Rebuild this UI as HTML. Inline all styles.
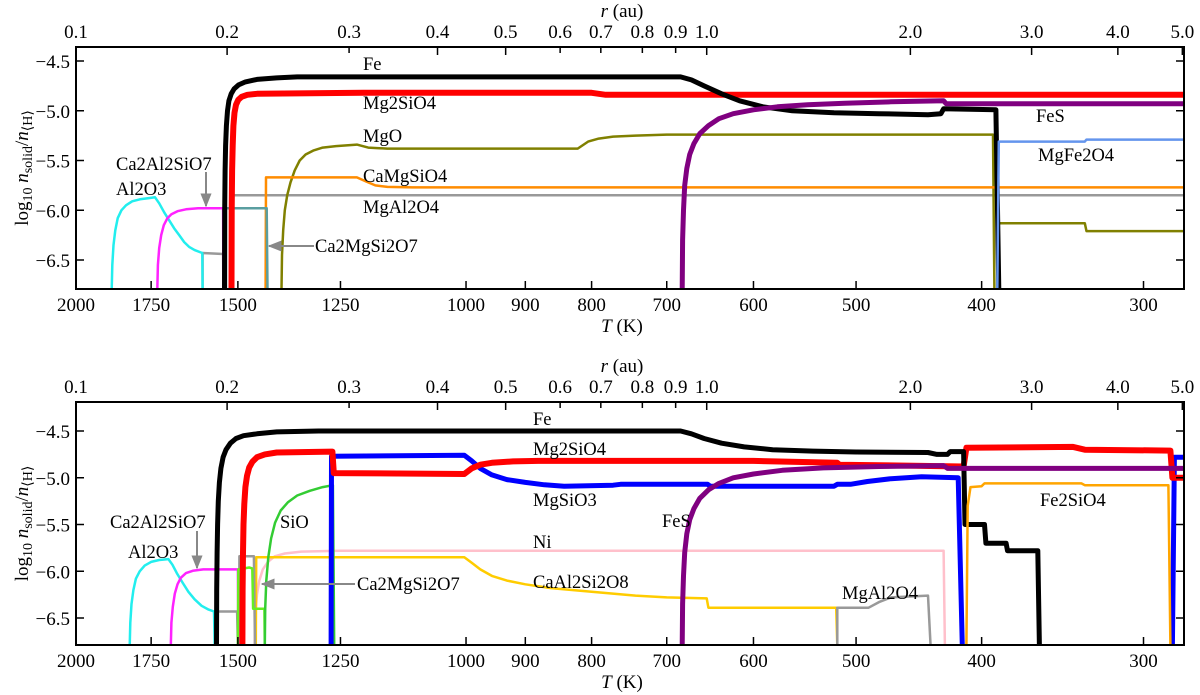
<!DOCTYPE html>
<html><head><meta charset="utf-8"><style>
html,body{margin:0;padding:0;background:#fff;}
svg{display:block;font-family:"Liberation Serif",serif;}
</style></head><body>
<svg id="chart" width="1200" height="695" viewBox="0 0 1200 695" xmlns="http://www.w3.org/2000/svg">
<defs>
<clipPath id="clipTop"><rect x="76" y="47" width="1108" height="242"/></clipPath>
<clipPath id="clipBot"><rect x="76" y="402" width="1108" height="243"/></clipPath>
<marker id="arr" viewBox="0 0 10 10" refX="9" refY="5" markerWidth="7" markerHeight="7" orient="auto"><path d="M0,1 L10,5 L0,9 z" fill="#888"/></marker>
</defs>
</svg>
<script>
// ---- data ----
const tTicks = [2000,1750,1500,1250,1000,900,800,700,600,500,400,300];
const yTicks = [-4.5,-5.0,-5.5,-6.0,-6.5];
const rTickLabels = ["0.1","0.2","0.3","0.4","0.5","0.6","0.7","0.8","0.9","1.0","2.0","3.0","4.0","5.0"];
const rTickT = [2000,1529,1231,1052,932,846,787,731,689,652,454,366,314,280];

// top panel series [T, log10 n]
const topFe = [[1536,-6.8],[1535.5,-6.0],[1534.5,-5.6],[1533,-5.35],[1531,-5.15],[1528,-5.0],[1524,-4.9],[1518,-4.83],[1510,-4.78],[1498,-4.74],[1480,-4.71],[1450,-4.685],[1400,-4.67],[1350,-4.66],[683,-4.66],[670,-4.69],[655,-4.75],[635,-4.83],[615,-4.9],[590,-4.96],[560,-5.0],[520,-5.02],[480,-5.03],[440,-5.04],[430,-5.03],[428,-4.98],[390,-4.99],[388,-6.8]];
const topMg2SiO4 = [[1517,-6.8],[1516.5,-6.0],[1515.5,-5.6],[1514,-5.35],[1512,-5.15],[1509,-5.02],[1505,-4.94],[1499,-4.89],[1490,-4.86],[1475,-4.84],[1450,-4.83],[1200,-4.82],[800,-4.82],[780,-4.84],[279,-4.84]];
const topMgO = [[1388,-6.8],[1387,-6.45],[1384,-6.2],[1380,-6.0],[1374,-5.85],[1366,-5.72],[1356,-5.6],[1344,-5.5],[1330,-5.44],[1312,-5.4],[1290,-5.37],[1260,-5.355],[1214,-5.34],[1190,-5.37],[1150,-5.38],[820,-5.38],[805,-5.31],[790,-5.28],[770,-5.26],[740,-5.25],[700,-5.24],[392,-5.24],[391,-6.8]];
const topMgOLow = [[389,-6.13],[333,-6.13],[332,-6.21],[279,-6.21]];
const topCaMgSiO4 = [[1428,-6.8],[1427,-5.67],[1214,-5.67],[1195,-5.71],[1175,-5.75],[1150,-5.765],[1100,-5.77],[279,-5.77]];
const topMgAl2O4Low = [[1597,-6.8],[1597,-6.43],[1540,-6.44],[1539,-6.8]];
const topMgAl2O4 = [[1512,-5.85],[279,-5.85]];
const topCa2Al2SiO7 = [[1731,-6.8],[1729,-6.55],[1725,-6.38],[1719,-6.25],[1711,-6.15],[1700,-6.08],[1688,-6.04],[1670,-6.01],[1645,-5.99],[1610,-5.98],[1540,-5.98],[1539,-6.8]];
const topAl2O3 = [[1877,-6.8],[1875,-6.55],[1871,-6.35],[1865,-6.2],[1857,-6.08],[1845,-6.0],[1830,-5.95],[1810,-5.91],[1785,-5.89],[1760,-5.88],[1738,-5.87],[1725,-5.93],[1710,-6.02],[1695,-6.1],[1680,-6.18],[1665,-6.25],[1650,-6.32],[1635,-6.37],[1620,-6.4],[1598,-6.43],[1597,-6.8]];
const topCa2MgSi2O7 = [[1532,-6.8],[1532,-5.98],[1425,-5.98],[1423,-6.8]];
const topFeS = [[681,-6.8],[680.5,-6.3],[679.5,-6.0],[678,-5.75],[675.5,-5.58],[672,-5.44],[667,-5.33],[660,-5.23],[650,-5.15],[638,-5.08],[622,-5.03],[600,-4.99],[575,-4.96],[545,-4.94],[510,-4.925],[470,-4.91],[428,-4.9],[426,-4.93],[279,-4.93]];
const topMgFe2O4 = [[389,-6.8],[388,-5.31],[333,-5.31],[332,-5.29],[279,-5.29]];

// bottom panel series
const botFe = [[1558,-6.8],[1557.5,-6.2],[1556.5,-5.8],[1555,-5.5],[1553,-5.25],[1550,-5.05],[1546,-4.9],[1540,-4.78],[1532,-4.7],[1520,-4.63],[1505,-4.58],[1485,-4.55],[1450,-4.53],[1400,-4.51],[1300,-4.5],[683,-4.5],[670,-4.53],[655,-4.58],[635,-4.63],[610,-4.67],[580,-4.7],[540,-4.715],[500,-4.725],[440,-4.73],[433,-4.75],[425,-4.75],[423,-4.72],[413,-4.72],[412,-5.5],[398,-5.5],[397,-5.7],[383,-5.7],[382,-5.78],[362,-5.78],[361,-6.8]];
const botMg2SiO4 = [[1488,-6.8],[1487.5,-6.2],[1486.5,-5.8],[1485,-5.5],[1483,-5.28],[1480,-5.1],[1476,-4.98],[1470,-4.89],[1462,-4.83],[1450,-4.78],[1430,-4.75],[1400,-4.73],[1268,-4.72],[1265,-4.95],[1003,-4.96],[990,-4.9],[975,-4.86],[955,-4.84],[920,-4.825],[880,-4.82],[600,-4.82],[517,-4.84],[515,-4.86],[413,-4.88],[411,-4.68],[340,-4.67],[333,-4.7],[286,-4.71],[285,-5.0],[279,-5.0]];
const botMgSiO3 = [[1271,-6.8],[1270,-4.77],[1003,-4.76],[990,-4.82],[975,-4.9],[955,-4.97],[930,-5.02],[900,-5.05],[870,-5.075],[840,-5.09],[770,-5.08],[760,-5.07],[651,-5.07],[648,-5.09],[520,-5.09],[517,-5.07],[505,-5.07],[490,-5.04],[470,-5.01],[445,-4.99],[417,-5.0],[414,-6.8]];
const botMgSiO3Low = [[285,-6.8],[284,-4.78],[279,-4.78]];
const botSiO = [[1430,-6.8],[1429,-6.4],[1426,-6.1],[1421,-5.85],[1414,-5.65],[1404,-5.48],[1390,-5.35],[1372,-5.26],[1350,-5.19],[1320,-5.14],[1290,-5.1],[1267,-5.08],[1264,-6.8]];
const botSiOHigh = [[1500,-6.8],[1499,-5.98],[1470,-5.96],[1462,-5.97],[1460,-6.4],[1431,-6.4],[1430,-6.8]];
const botMgAl2O4a = [[1562,-6.43],[1502,-6.43],[1500,-6.8]];
const botMgAl2O4b = [[1497,-6.8],[1496,-5.84],[1458,-5.84],[1455,-6.8]];
const botMgAl2O4c = [[517,-6.8],[517,-6.39],[489,-6.39],[480,-6.33],[470,-6.28],[440,-6.26],[438,-6.8]];
const botNi = [[1456,-6.8],[1454,-6.45],[1450,-6.25],[1444,-6.1],[1435,-5.98],[1422,-5.9],[1405,-5.84],[1380,-5.81],[1340,-5.79],[1250,-5.78],[428,-5.78],[427,-6.8]];
const botCaAl2Si2O8 = [[1453,-6.8],[1452,-5.85],[1003,-5.85],[990,-5.91],[975,-5.98],[955,-6.05],[930,-6.1],[900,-6.14],[860,-6.18],[800,-6.22],[740,-6.26],[700,-6.28],[652,-6.29],[650,-6.39],[518,-6.39],[517,-6.8]];
const botCa2Al2SiO7 = [[1690,-6.8],[1688,-6.55],[1684,-6.38],[1678,-6.24],[1670,-6.14],[1660,-6.07],[1645,-6.02],[1625,-5.995],[1595,-5.98],[1500,-5.98],[1499,-6.8]];
const botAl2O3 = [[1818,-6.8],[1816,-6.55],[1812,-6.35],[1806,-6.2],[1798,-6.08],[1786,-6.0],[1770,-5.94],[1750,-5.9],[1725,-5.88],[1697,-5.87],[1685,-5.93],[1672,-6.02],[1655,-6.12],[1638,-6.22],[1620,-6.3],[1600,-6.37],[1580,-6.41],[1565,-6.43],[1563,-6.8]];
const botFeS = [[681,-6.8],[680.5,-6.35],[679.5,-6.05],[678,-5.8],[675.5,-5.6],[672,-5.45],[667,-5.33],[660,-5.22],[650,-5.13],[638,-5.06],[622,-5.0],[600,-4.96],[570,-4.92],[530,-4.895],[480,-4.88],[428,-4.87],[425,-4.9],[279,-4.9]];
const botFe2SiO4 = [[411,-6.8],[410,-5.3],[408,-5.1],[400,-5.09],[398,-5.06],[335,-5.06],[333,-5.08],[287,-5.08],[286,-6.8]];

// ---- scales ----
const X0 = 76, X1 = 1184, T0 = 2000, PPL = 562.7;
function xT(T){ return X0 + Math.log(T0/T)*PPL; }
const panels = {
  top:{top:47,bottom:289,yRef:61,ppu:99.5,clip:"clipTop",name:"top-panel"},
  bot:{top:402,bottom:645,yRef:431,ppu:93.5,clip:"clipBot",name:"bottom-panel"}
};
function yV(p,v){ return p.yRef-(v+4.5)*p.ppu; }

const svg = document.getElementById('chart');
const NS = "http://www.w3.org/2000/svg";
function mk(tag, attrs, parent){
  const e = document.createElementNS(NS, tag);
  for (const k in attrs) e.setAttribute(k, attrs[k]);
  (parent||svg).appendChild(e); return e;
}
function txt(s, x, y, size, anchor, parent){
  const t = mk('text',{x:x,y:y,'font-size':size,'text-anchor':anchor||'middle',fill:'#000'},parent);
  t.textContent = s; return t;
}

function drawSeries(p, g, data, color, w, name){
  const pts = data.map(d => xT(d[0]).toFixed(1)+","+yV(p,d[1]).toFixed(1)).join(" ");
  const l = mk('polyline',{points:pts,fill:'none',stroke:color,'stroke-width':w,'stroke-linejoin':'round'},g);
  
  
}

function drawAxes(p){
  const g = mk('g',{});
  
  
  tTicks.forEach(T=>{
    const x = xT(T);
    mk('line',{x1:x,y1:p.bottom,x2:x,y2:p.bottom-8,stroke:'#000','stroke-width':1.5},g);
    const t = txt(String(T), x, p.bottom+22, 19, 'middle', g);
    
    
  });
  rTickLabels.forEach((lab,i)=>{
    const x = xT(rTickT[i]);
    mk('line',{x1:x,y1:p.top,x2:x,y2:p.top+(lab.endsWith('.0')||lab==='0.2'||lab==='0.4'||lab==='0.5'?8:6),stroke:'#000','stroke-width':1.5},g);
    const t = txt(lab, x, p.top-9, 19, 'middle', g);
    
    
  });
  yTicks.forEach(v=>{
    const y = yV(p,v);
    mk('line',{x1:X0,y1:y,x2:X0+8,y2:y,stroke:'#000','stroke-width':1.5},g);
    mk('line',{x1:X1,y1:y,x2:X1-8,y2:y,stroke:'#000','stroke-width':1.5},g);
    const t = txt('\u2212'+Math.abs(v).toFixed(1), X0-6, y+7, 19, 'end', g);
    
    
  });
  mk('rect',{x:X0,y:p.top,width:X1-X0,height:p.bottom-p.top,fill:'none',stroke:'#000','stroke-width':2},g);
  const xt = mk('text',{x:(X0+X1)/2-8,y:p.bottom+43,'font-size':19,'text-anchor':'middle'},g);
  xt.innerHTML = '<tspan font-style="italic">T</tspan> (K)';
  
  
  const rt = mk('text',{x:(X0+X1)/2-8,y:p.top-30,'font-size':19,'text-anchor':'middle'},g);
  rt.innerHTML = '<tspan font-style="italic">r</tspan> (au)';
  
  
  const cy = (p.top+p.bottom)/2;
  const yt = mk('text',{x:0,y:0,'font-size':19,'text-anchor':'middle',transform:`translate(28,${cy}) rotate(-90)`},g);
  yt.innerHTML = 'log<tspan font-size="14" dy="4">10</tspan><tspan dy="-4"> </tspan><tspan font-style="italic">n</tspan><tspan font-size="14" dy="4">solid</tspan><tspan dy="-4">/</tspan><tspan font-style="italic">n</tspan><tspan font-size="14" dy="4">⟨H⟩</tspan>';
  
  
}

function label(s,x,y,name){
  const t = txt(s,x,y,18.5,'start');
  
  
}
function arrow(x1,y1,x2,y2,name){
  const a = mk('line',{x1:x1,y1:y1,x2:x2,y2:y2,stroke:'#888','stroke-width':2,'marker-end':'url(#arr)'});
  
  
}

// ---- top panel ----
const P1 = panels.top;
const g1 = mk('g',{'clip-path':'url(#clipTop)'});


drawSeries(P1,g1,topMgAl2O4Low,'#999',2.5,'mgal2o4-low-line');
drawSeries(P1,g1,topMgAl2O4,'#999',2.5,'mgal2o4-line');
drawSeries(P1,g1,topMgO,'#808000',2.5,'mgo-line');
drawSeries(P1,g1,topMgOLow,'#808000',2.5,'mgo-low-line');
drawSeries(P1,g1,topCaMgSiO4,'#ff8c00',2.5,'camgsio4-line');
drawSeries(P1,g1,topAl2O3,'#22eeee',2.5,'al2o3-line');
drawSeries(P1,g1,topCa2Al2SiO7,'#ff22ff',2.5,'ca2al2sio7-line');
drawSeries(P1,g1,topCa2MgSi2O7,'#5a9ea0',2.5,'ca2mgsi2o7-line');
drawSeries(P1,g1,topMg2SiO4,'#ff0000',6,'mg2sio4-line');
drawSeries(P1,g1,topFe,'#000',5,'fe-line');
drawSeries(P1,g1,topMgFe2O4,'#6495ed',2.5,'mgfe2o4-line');
drawSeries(P1,g1,topFeS,'#800080',5,'fes-line');
drawAxes(P1);
label('Fe',363,70,'fe-label');
label('Mg2SiO4',363,109,'mg2sio4-label');
label('MgO',363,142,'mgo-label');
label('CaMgSiO4',363,182,'camgsio4-label');
label('MgAl2O4',363,213,'mgal2o4-label');
label('Ca2Al2SiO7',116,170,'ca2al2sio7-label');
label('Al2O3',116,195,'al2o3-label');
label('Ca2MgSi2O7',315,252,'ca2mgsi2o7-label');
label('FeS',1036,122,'fes-label');
label('MgFe2O4',1038,161,'mgfe2o4-label');
arrow(206,172,206,206,'ca2al2sio7-arrow');
arrow(314,246,269,246,'ca2mgsi2o7-arrow');

// ---- bottom panel ----
const P2 = panels.bot;
const g2 = mk('g',{'clip-path':'url(#clipBot)'});


drawSeries(P2,g2,botNi,'#ffc0cb',2.5,'ni-line');
drawSeries(P2,g2,botCaAl2Si2O8,'#ffcc00',2.5,'caal2si2o8-line');
drawSeries(P2,g2,botMgAl2O4a,'#999',2.5,'mgal2o4-a-line');
drawSeries(P2,g2,botMgAl2O4b,'#999',2.5,'mgal2o4-b-line');
drawSeries(P2,g2,botMgAl2O4c,'#999',2.5,'mgal2o4-c-line');
drawSeries(P2,g2,botAl2O3,'#22eeee',2.5,'al2o3-line');
drawSeries(P2,g2,botCa2Al2SiO7,'#ff22ff',2.5,'ca2al2sio7-line');
drawSeries(P2,g2,botSiOHigh,'#66ee22',2.5,'ca2mgsi2o7-line');
drawSeries(P2,g2,botSiO,'#33cc33',2.5,'sio-line');
drawSeries(P2,g2,botMgSiO3,'#0000ff',5,'mgsio3-line');
drawSeries(P2,g2,botMgSiO3Low,'#0000ff',5,'mgsio3-low-line');
drawSeries(P2,g2,botMg2SiO4,'#ff0000',6,'mg2sio4-line');
drawSeries(P2,g2,botFe,'#000',5,'fe-line');
drawSeries(P2,g2,botFeS,'#800080',5,'fes-line');
drawSeries(P2,g2,botFe2SiO4,'#ffa500',2.5,'fe2sio4-line');
drawAxes(P2);
label('Fe',533,425,'fe-label');
label('Mg2SiO4',533,455,'mg2sio4-label');
label('MgSiO3',533,506,'mgsio3-label');
label('FeS',662,527,'fes-label');
label('Ni',533,548,'ni-label');
label('CaAl2Si2O8',533,588,'caal2si2o8-label');
label('MgAl2O4',842,599,'mgal2o4-label');
label('Fe2SiO4',1040,506,'fe2sio4-label');
label('SiO',280,528,'sio-label');
label('Ca2Al2SiO7',110,528,'ca2al2sio7-label');
label('Al2O3',128,558,'al2o3-label');
label('Ca2MgSi2O7',357,590,'ca2mgsi2o7-label');
arrow(197,531,197,568,'ca2al2sio7-arrow');
arrow(355,584,262,584,'ca2mgsi2o7-arrow');
</script>
</body></html>
